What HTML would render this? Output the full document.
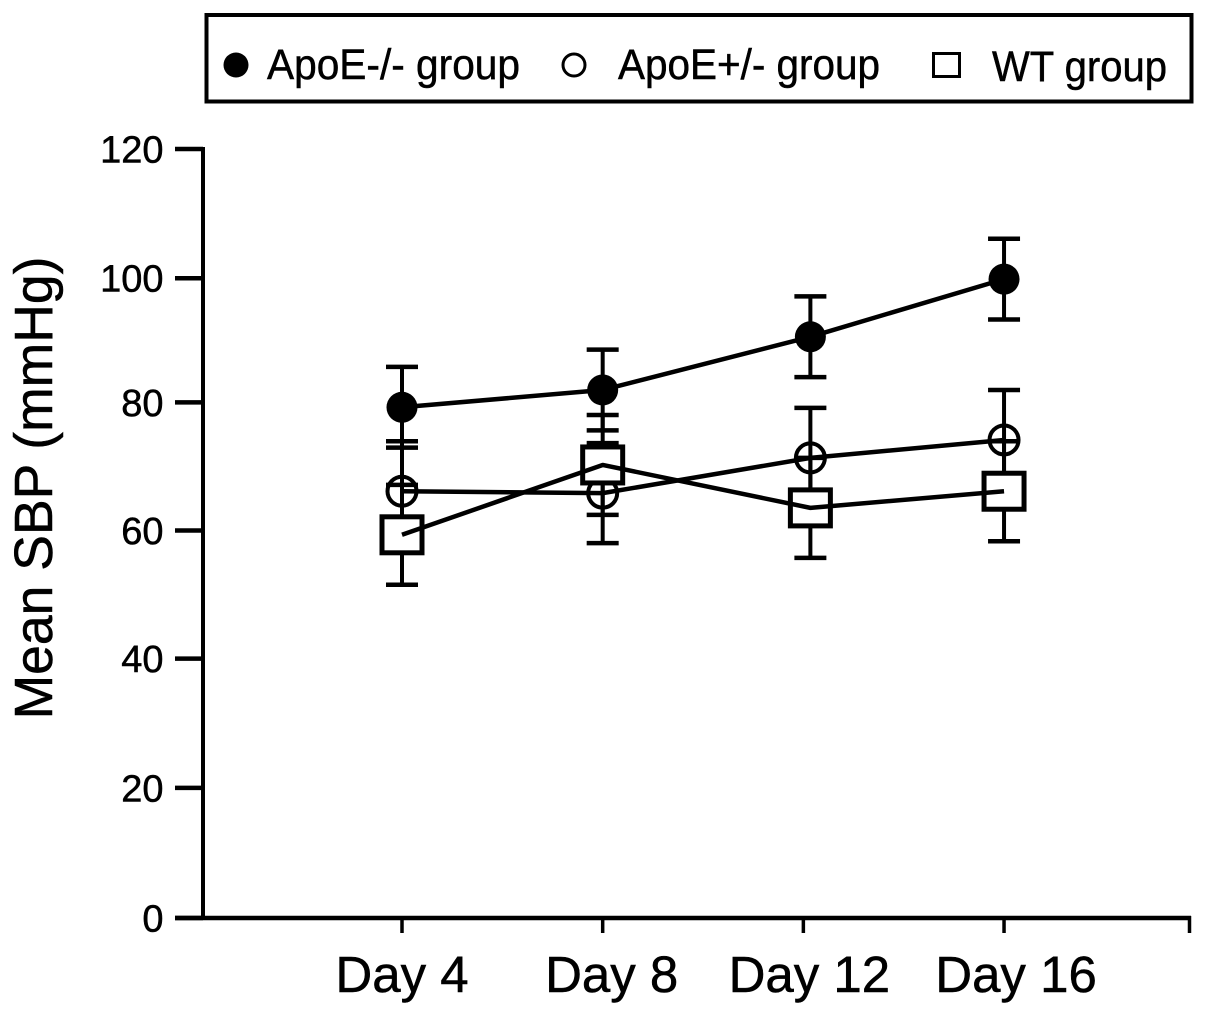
<!DOCTYPE html>
<html lang="en">
<head>
<meta charset="utf-8">
<title>Mean SBP chart</title>
<style>
html,body{margin:0;padding:0;background:#fff;}
svg{display:block;}
text{font-family:"Liberation Sans",Arial,sans-serif;fill:#000;stroke:#000;stroke-width:0.5px;}
</style>
</head>
<body>
<svg id="chart" xmlns="http://www.w3.org/2000/svg" width="1205" height="1016" viewBox="0 0 1205 1016">
  <rect width="1205" height="1016" fill="#fff"/>
  <g>
    <rect x="206.5" y="15" width="985" height="86.5" fill="#fff" stroke="#000" stroke-width="4"/>
    <g>
      <circle cx="236" cy="65" r="12.5" fill="#000"/>
      <text x="267" y="79" font-size="43" textLength="253" lengthAdjust="spacingAndGlyphs">ApoE-/- group</text>
    </g>
    <g>
      <circle cx="574" cy="65" r="11" fill="none" stroke="#000" stroke-width="3"/>
      <text x="618" y="79" font-size="43" textLength="262" lengthAdjust="spacingAndGlyphs">ApoE+/- group</text>
    </g>
    <g>
      <rect x="933.5" y="53.5" width="26" height="23" fill="none" stroke="#000" stroke-width="3"/>
      <text x="992" y="81" font-size="43" textLength="175" lengthAdjust="spacingAndGlyphs">WT group</text>
    </g>
  </g>
  <text transform="translate(52,488) rotate(-90)" text-anchor="middle" font-size="53.5">Mean SBP (mmHg)</text>
  <g id="axes"></g>
  <g id="marks"></g>
</svg>
<script>
const yTicks = [0, 20, 40, 60, 80, 100, 120];
const xTickDays = [4, 8, 12, 16];
const xTickLabels = ["Day 4", "Day 8", "Day 12", "Day 16"];
const markerDays = [4, 8, 12.14, 16];
const koMeans = [79.7, 82.4, 90.7, 99.7];
const koErrors = [6.3, 6.3, 6.3, 6.3];
const hetMeans = [66.6, 66.3, 71.8, 74.6];
const hetErrors = [7.8, 7.8, 7.8, 7.8];
const wtMeans = [59.8, 70.7, 64.0, 66.6];
const wtErrors = [7.8, 7.8, 7.8, 7.8];

const NS = "http://www.w3.org/2000/svg";
const axesLayer = document.getElementById("axes");
const marksLayer = document.getElementById("marks");

function xScale(day) { return 402 + (day - 4) * 50.17; }
function yScale(v) { return 918 - v * 6.408; }

function make(tag, attrs, parent) {
  const el = document.createElementNS(NS, tag);
  Object.keys(attrs).forEach(function (k) { el.setAttribute(k, attrs[k]); });
  parent.appendChild(el);
  return el;
}

const yAxisLine = make("line", {x1: 203, x2: 203, y1: yScale(120) - 2, y2: yScale(0) + 2, stroke: "#000", "stroke-width": 4}, axesLayer);


const xAxisLine = make("line", {x1: 175, x2: 1191, y1: yScale(0), y2: yScale(0), stroke: "#000", "stroke-width": 4.5}, axesLayer);



const yTickShift = [0, -2, -3, -3, -3, 1, 0];
yTicks.forEach(function (t, i) {
  const py = yScale(t) + yTickShift[i];
  const tick = make("line", {x1: 175, x2: 203, y1: py, y2: py, stroke: "#000", "stroke-width": 4.5}, axesLayer);
  
  
  const label = make("text", {x: 163.5, y: py + 13.5, "text-anchor": "end", "font-size": 38}, axesLayer);
  
  
  label.textContent = String(t);
});

const labelShift = [0, 9, 6, 12];
xTickDays.forEach(function (d, i) {
  const tick = make("line", {x1: xScale(d), x2: xScale(d), y1: 916, y2: 933, stroke: "#000", "stroke-width": 3.5}, axesLayer);
  
  
  const label = make("text", {x: xScale(d) + labelShift[i], y: 992, "text-anchor": "middle", "font-size": 51}, axesLayer);
  
  
  label.textContent = xTickLabels[i];
});
const xEndTick = make("line", {x1: 1189.5, x2: 1189.5, y1: 916, y2: 933, stroke: "#000", "stroke-width": 3.5}, axesLayer);



function drawErrorBars(means, errors) {
  means.forEach(function (m, i) {
    const x = xScale(markerDays[i]);
    const top = yScale(m + errors[i]);
    const bottom = yScale(m - errors[i]);
    const stem = make("line", {x1: x, x2: x, y1: top, y2: bottom, stroke: "#000", "stroke-width": 4}, marksLayer);
    
    
    const capTop = make("line", {x1: x - 16, x2: x + 16, y1: top, y2: top, stroke: "#000", "stroke-width": 4.5}, marksLayer);
    
    
    const capBottom = make("line", {x1: x - 16, x2: x + 16, y1: bottom, y2: bottom, stroke: "#000", "stroke-width": 4.5}, marksLayer);
    
    
  });
}

function drawLine(means, name) {
  const pts = means.map(function (m, i) { return xScale(markerDays[i]) + "," + yScale(m); }).join(" ");
  const line = make("polyline", {points: pts, fill: "none", stroke: "#000", "stroke-width": 4.5, "stroke-linejoin": "round"}, marksLayer);
  
  
}

drawErrorBars(hetMeans, hetErrors);
drawErrorBars(wtMeans, wtErrors);
drawErrorBars(koMeans, koErrors);

hetMeans.forEach(function (m, i) {
  const c = make("circle", {cx: xScale(markerDays[i]), cy: yScale(m), r: 14.5, fill: "none", stroke: "#000", "stroke-width": 4}, marksLayer);
  
  
});

wtMeans.forEach(function (m, i) {
  const r = make("rect", {x: xScale(markerDays[i]) - 20, y: yScale(m) - 18, width: 40, height: 36, fill: "#fff", stroke: "#000", "stroke-width": 5}, marksLayer);
  
  
});

drawLine(hetMeans, "line-apoe-het");
drawLine(wtMeans, "line-wt");
drawLine(koMeans, "line-apoe-ko");

koMeans.forEach(function (m, i) {
  const c = make("circle", {cx: xScale(markerDays[i]), cy: yScale(m), r: 15.5, fill: "#000"}, marksLayer);
  
  
});
</script>
</body>
</html>
